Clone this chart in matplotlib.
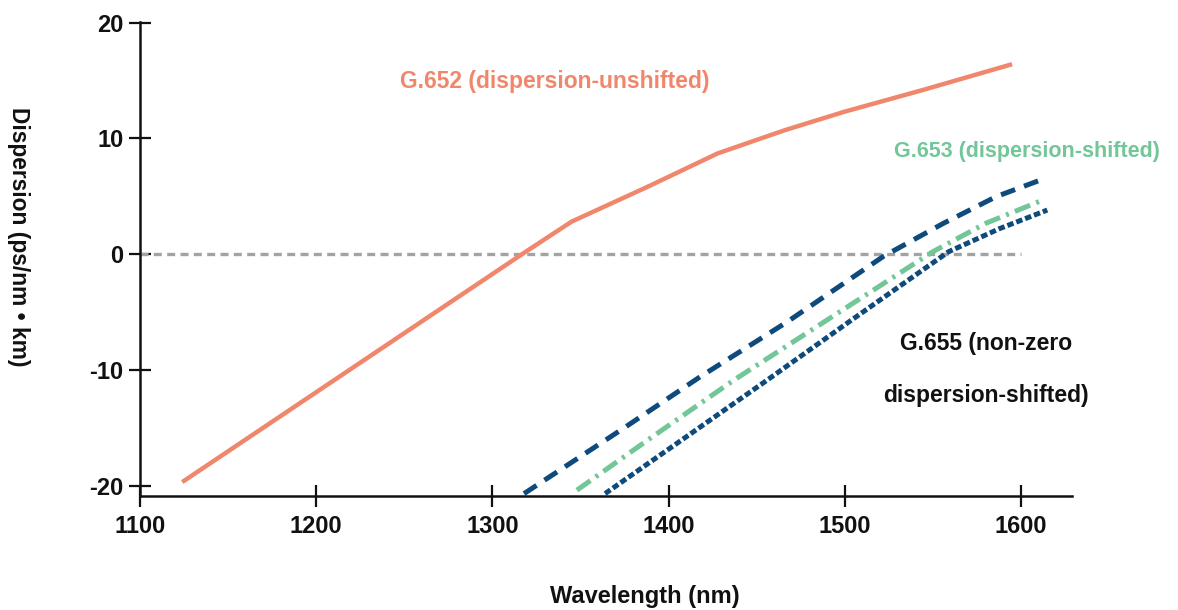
import matplotlib
matplotlib.use("Agg")
import matplotlib.pyplot as plt

# Font: condensed bold look (closest available).
plt.rcParams['font.family'] = ['Liberation Sans', 'DejaVu Sans']
plt.rcParams['font.weight'] = 'bold'
plt.rcParams['axes.unicode_minus'] = False

# G.652 (dispersion-unshifted).
g652_x = [1124, 1317, 1345, 1388, 1428, 1466, 1500, 1545, 1595]
g652_y = [-19.7, 0.0, 2.8, 5.8, 8.7, 10.7, 12.3, 14.2, 16.4]

# G.655 upper bound (dashed).
g655_hi_x = [1318, 1376, 1418, 1467, 1522, 1556, 1586, 1613]
g655_hi_y = [-20.7, -14.9, -10.6, -5.9, -0.2, 2.65, 4.96, 6.5]

# G.653 (dash-dot).
g653_x = [1348, 1387, 1437, 1490, 1550, 1580, 1613]
g653_y = [-20.4, -16.2, -10.9, -5.7, 0.2, 2.65, 4.7]

# G.655 lower bound (short dashes).
g655_lo_x = [1364, 1410, 1455, 1503, 1559, 1588, 1615]
g655_lo_y = [-20.7, -15.8, -11.0, -5.8, 0.2, 2.2, 3.8]

# Zero reference line.
zero_x = [1100, 1600]
zero_y = [0, 0]

x_ticks = [1100, 1200, 1300, 1400, 1500, 1600]
y_ticks = [-20, -10, 0, 10, 20]

orange = '#F0876C'
green = '#72C698'
navy = '#0F4A7C'

fig = plt.figure(figsize=(11.78, 6.10), dpi=100)
ax = fig.add_axes([0.1188, 0.187, 0.7912, 0.777])

ax.plot(zero_x, zero_y, color='#A3A3A3', lw=2.4, dashes=(2.4, 1.6))
ax.plot(g652_x, g652_y, color=orange, lw=3.2, solid_capstyle='butt')
ax.plot(g655_hi_x, g655_hi_y, color=navy, lw=3.6, dashes=(3.0, 1.9))
ax.plot(g653_x, g653_y, color=green, lw=3.6, dashes=(3.3, 1.3, 0.6, 1.3))
ax.plot(g655_lo_x, g655_lo_y, color=navy, lw=3.6, dashes=(1.3, 0.6))

ax.set_xlim(1100, 1629)
ax.set_ylim(-20.9, 20.05)
ax.set_xticks(x_ticks)
ax.set_yticks(y_ticks)

for s in ['top', 'right']:
    ax.spines[s].set_visible(False)
for s in ['left', 'bottom']:
    ax.spines[s].set_linewidth(1.8)
    ax.spines[s].set_color('#111111')

ax.tick_params(axis='both', direction='inout', length=16, width=1.6,
               labelsize=17, colors='#111111')
ax.tick_params(axis='x', pad=6)
ax.tick_params(axis='y', pad=4)
for lab in ax.get_xticklabels() + ax.get_yticklabels():
    lab.set_fontweight('bold')

# Axis labels.
fig.text(645 / 1178, 1 - 597 / 610, 'Wavelength (nm)', ha='center', va='center',
         fontsize=17, fontweight='bold', color='#111111')
fig.text(18 / 1178, 1 - 237 / 610, 'Dispersion (ps/nm \u2022 km)', ha='center', va='center',
         rotation=270, fontsize=16.4, fontweight='bold', color='#111111')

# Curve annotations.
ax.text(1335.7, 14.9, 'G.652 (dispersion-unshifted)', ha='center', va='center',
        fontsize=16.5, fontweight='bold', color=orange)
ax.text(1603.5, 8.85, 'G.653 (dispersion-shifted)', ha='center', va='center',
        fontsize=15.5, fontweight='bold', color=green)
ax.text(1580.4, -7.7, 'G.655 (non-zero', ha='center', va='center',
        fontsize=16.5, fontweight='bold', color='#111111')
ax.text(1580.4, -12.2, 'dispersion-shifted)', ha='center', va='center',
        fontsize=16.5, fontweight='bold', color='#111111')

fig.savefig('out.png', dpi=100, facecolor='white')
